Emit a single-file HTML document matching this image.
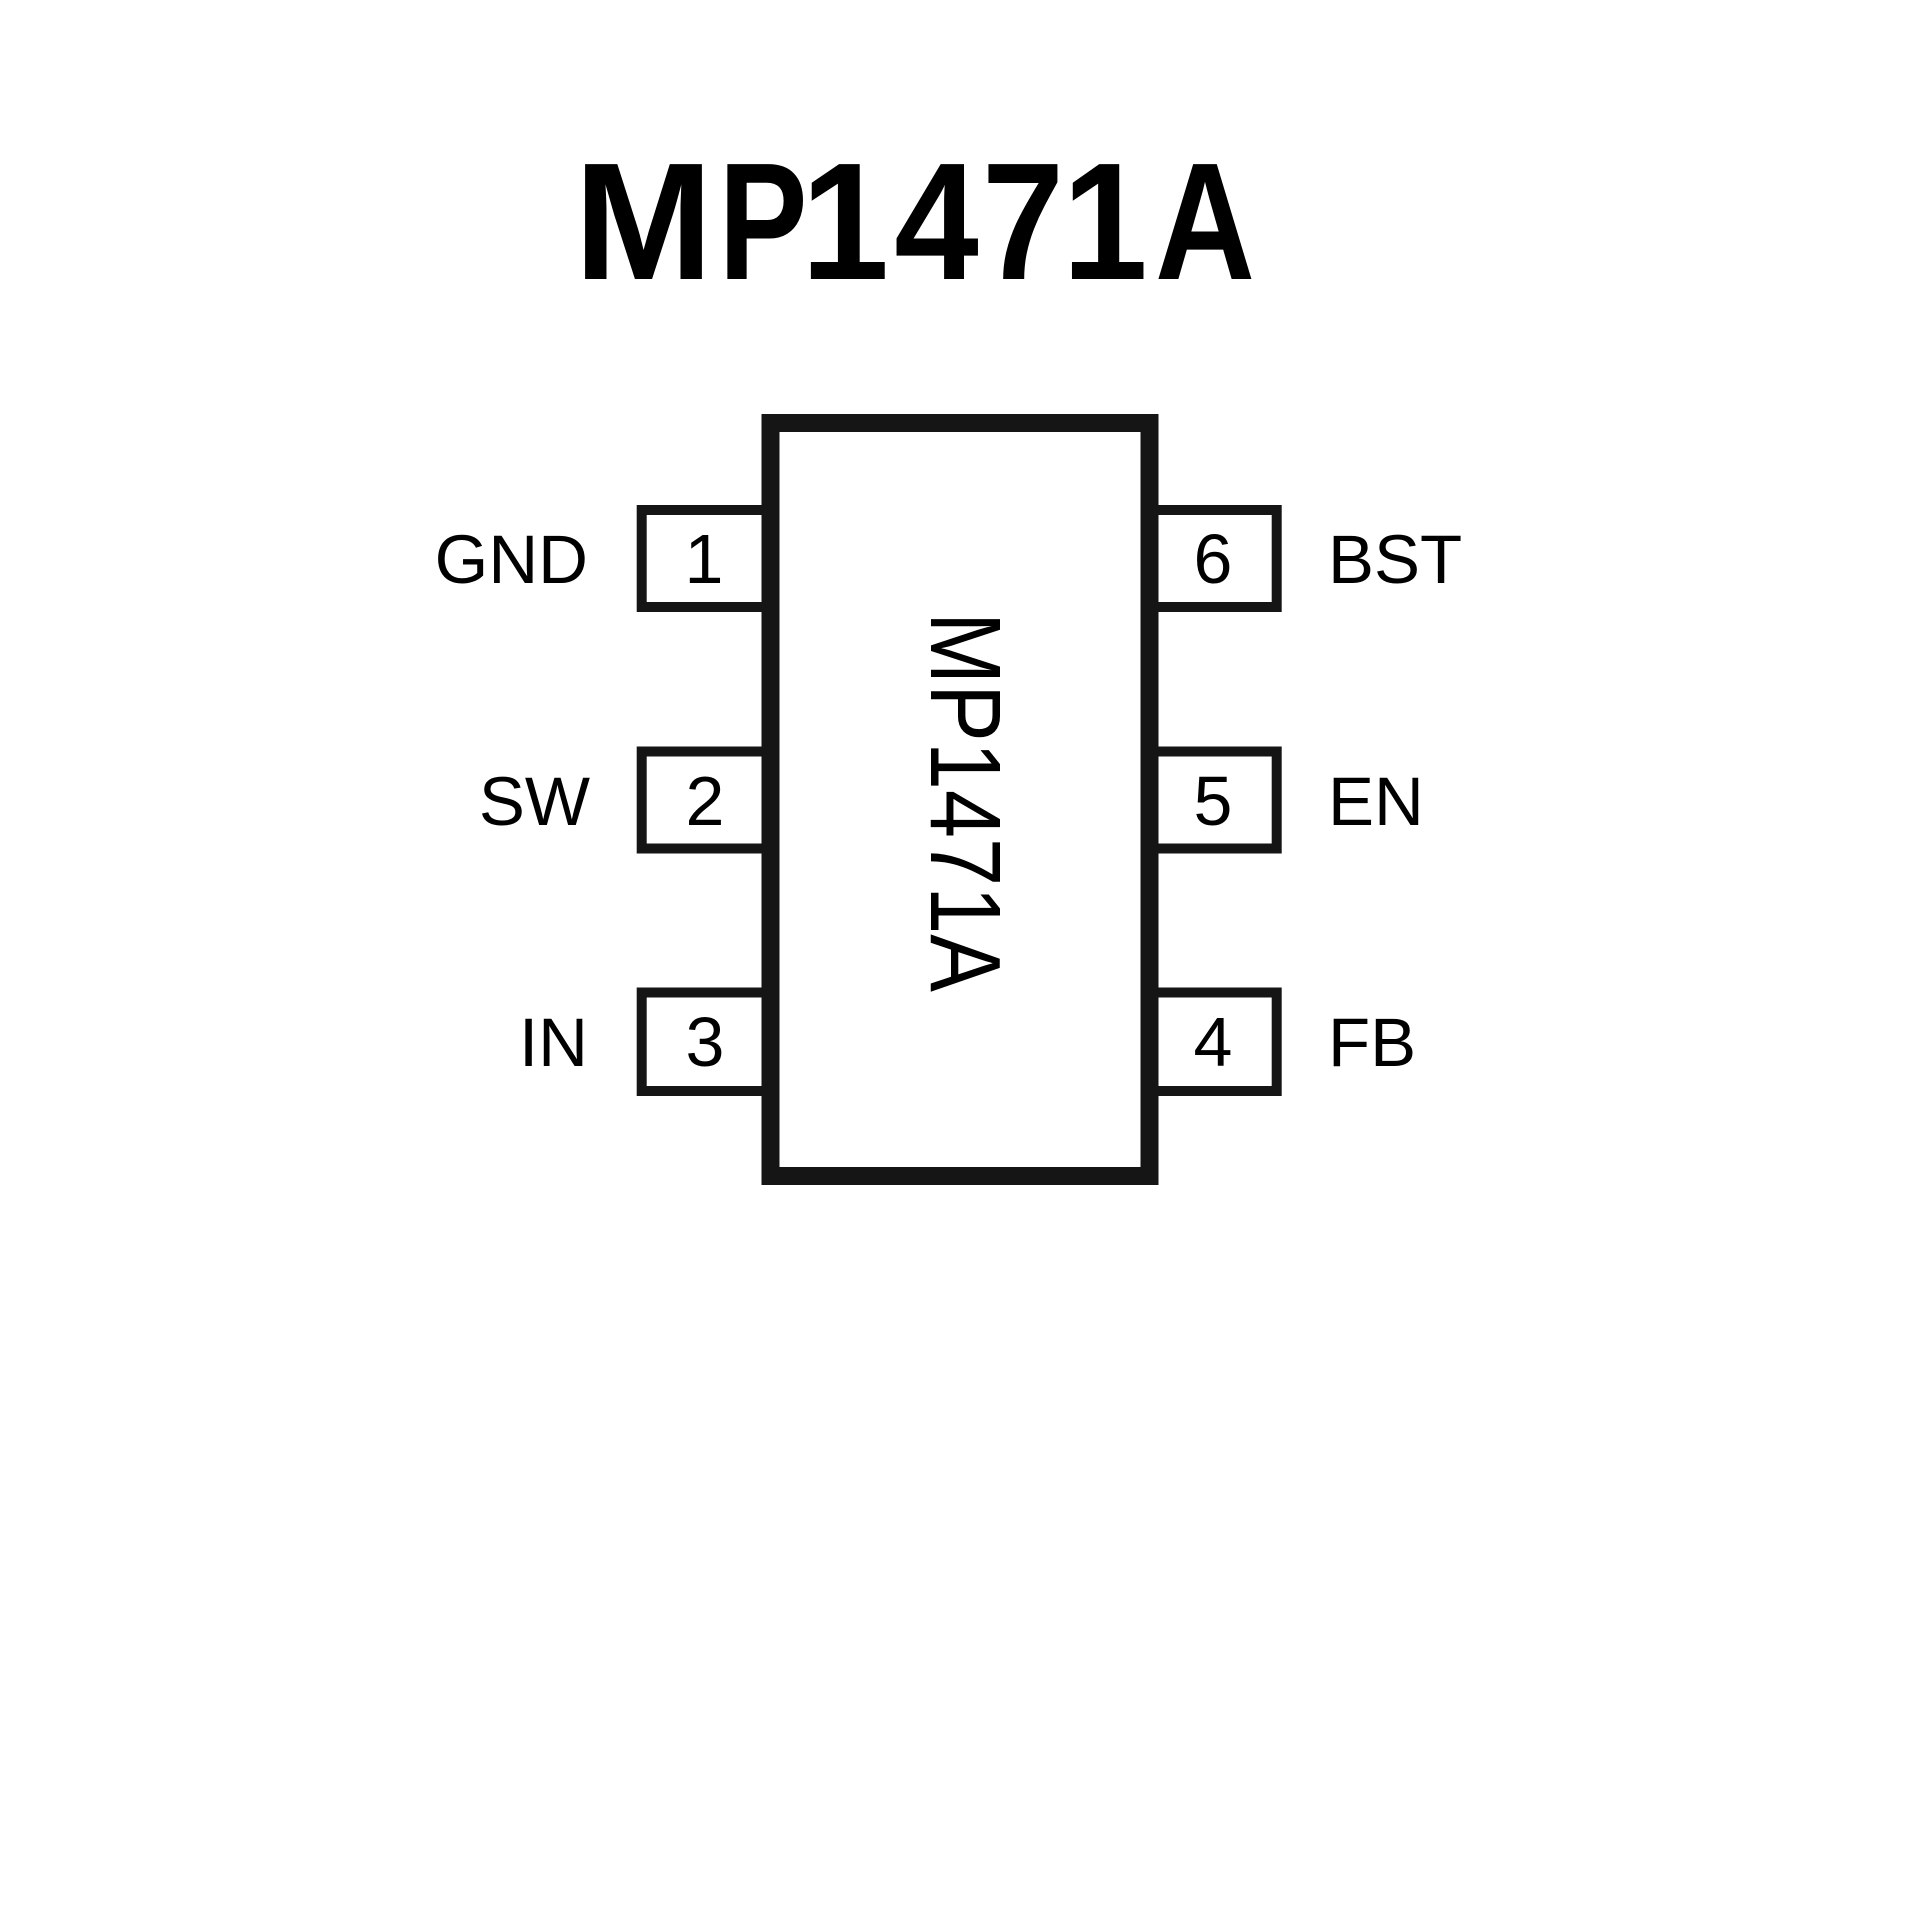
<!DOCTYPE html>
<html>
<head>
<meta charset="utf-8">
<style>
  html, body { margin: 0; padding: 0; background: #fff; }
  svg { display: block; }
  text { font-family: "Liberation Sans", Arial, sans-serif; fill: #000; }
</style>
</head>
<body>
<svg width="1920" height="1920" viewBox="0 0 1920 1920" xmlns="http://www.w3.org/2000/svg">
  <rect x="0" y="0" width="1920" height="1920" fill="#fff"/>

  <!-- Title (per-glyph placement to match condensed bold face) -->
  <g font-size="167" font-weight="bold" text-anchor="middle">
    <text transform="translate(643.5,279) scale(1.0,1)">M</text>
    <text transform="translate(763,279) scale(0.8,1)">P</text>
    <text transform="translate(845,279) scale(0.95,1)">1</text>
    <text transform="translate(936.5,279) scale(0.91,1)">4</text>
    <text transform="translate(1023,279) scale(0.88,1)">7</text>
    <text transform="translate(1105,279) scale(0.92,1)">1</text>
    <text transform="translate(1205,279) scale(0.83,1)">A</text>
  </g>

  <!-- Left pins -->
  <g fill="#fff" stroke="#151515" stroke-width="10">
    <rect x="641.7" y="510" width="130" height="97"/>
    <rect x="641.7" y="751.5" width="130" height="97"/>
    <rect x="641.7" y="992.5" width="130" height="98.5"/>
    <!-- Right pins -->
    <rect x="1150" y="510" width="126.7" height="97"/>
    <rect x="1150" y="751.5" width="126.7" height="97"/>
    <rect x="1150" y="992.5" width="126.7" height="98.5"/>
  </g>

  <!-- Body -->
  <rect x="770.5" y="423" width="379" height="753" fill="#fff" stroke="#151515" stroke-width="18"/>

  <!-- Vertical part name -->
  <text transform="translate(931,612) rotate(90)" x="0" y="0" font-size="100" textLength="380" lengthAdjust="spacingAndGlyphs">MP1471A</text>

  <!-- Pin numbers -->
  <g font-size="70" text-anchor="middle">
    <text x="704" y="583">1</text>
    <text x="705" y="825">2</text>
    <text x="705" y="1066">3</text>
    <text x="1213" y="583">6</text>
    <text x="1213" y="825">5</text>
    <text x="1213" y="1066">4</text>
  </g>

  <!-- Left labels -->
  <g font-size="69" text-anchor="end">
    <text x="588" y="583">GND</text>
    <text x="590" y="825">SW</text>
    <text x="588" y="1066">IN</text>
  </g>

  <!-- Right labels -->
  <g font-size="69" text-anchor="start">
    <text x="1328" y="583">BST</text>
    <text x="1328" y="825">EN</text>
    <text x="1328" y="1066">FB</text>
  </g>
</svg>
</body>
</html>
